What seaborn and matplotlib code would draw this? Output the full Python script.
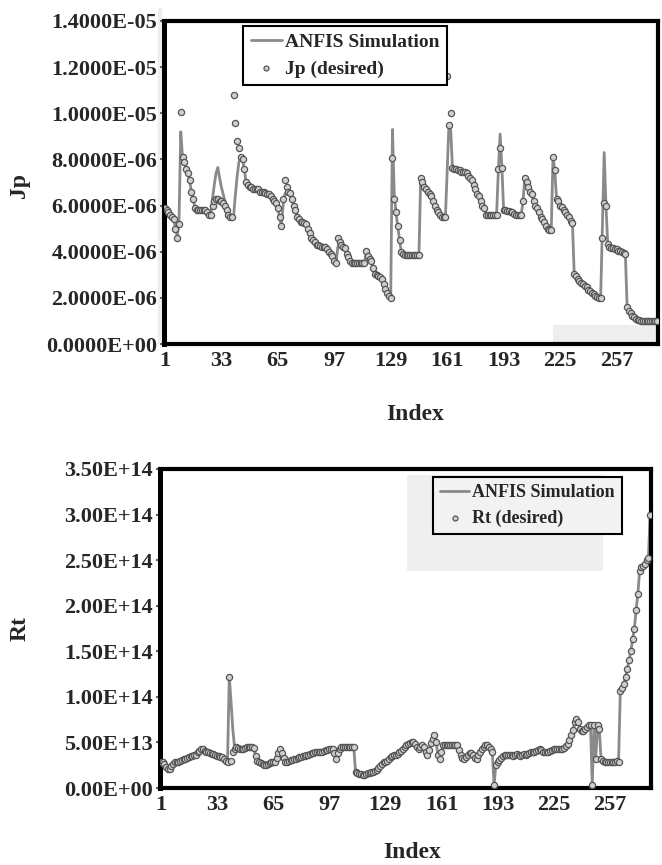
import numpy as np
import pandas as pd
import matplotlib
matplotlib.use("Agg")
import matplotlib.pyplot as plt
import seaborn as sns
from matplotlib.ticker import FuncFormatter, FixedLocator
from matplotlib.patches import Rectangle

# ---------------- data ----------------
# Jp (desired), units of 1e-6
jp_desired = [
    5.9, 5.8, 5.7, 5.6, 5.5, 5.4, 5.0, 4.6, 5.2, 10.06,
    8.1, 7.9, 7.6, 7.4, 7.1, 6.6, 6.3, 5.9, 5.8, 5.8,
    5.8, 5.8, 5.8, 5.8, 5.7, 5.6, 5.6, 6.0, 6.2, 6.3,
    6.3, 6.2, 6.2, 6.1, 6.0, 5.8, 5.6, 5.5, 5.5, 10.8,
    9.6, 8.8, 8.5, 8.1, 8.0, 7.6, 7.0, 6.9, 6.8, 6.8,
    6.7, 6.7, 6.7, 6.7, 6.6, 6.6, 6.6, 6.55, 6.5, 6.5,
    6.4, 6.3, 6.2, 6.1, 5.9, 5.5, 5.1, 6.3, 7.1, 6.8,
    6.6, 6.55, 6.3, 6.0, 5.8, 5.5, 5.4, 5.3, 5.3, 5.25,
    5.2, 5.0, 4.8, 4.6, 4.5, 4.4, 4.3, 4.3, 4.25, 4.2,
    4.2, 4.2, 4.1, 4.0, 3.9, 3.8, 3.6, 3.5, 4.6, 4.4,
    4.3, 4.2, 4.15, 3.9, 3.75, 3.6, 3.5, 3.5, 3.5, 3.5,
    3.5, 3.5, 3.5, 3.5, 4.05, 3.8, 3.7, 3.6, 3.3, 3.05,
    3.0, 2.95, 2.9, 2.8, 2.6, 2.4, 2.2, 2.1, 2.0, 8.05,
    6.3, 5.7, 5.1, 4.5, 4.0, 3.9, 3.85, 3.85, 3.85, 3.85,
    3.85, 3.85, 3.85, 3.85, 3.85, 7.2, 7.0, 6.8, 6.7, 6.6,
    6.5, 6.4, 6.2, 6.0, 5.8, 5.7, 5.6, 5.5, 5.5, 5.5,
    11.6, 9.5, 10.0, 7.65, 7.6, 7.6, 7.55, 7.55, 7.45, 7.45,
    7.45, 7.4, 7.3, 7.2, 7.1, 6.9, 6.7, 6.5, 6.4, 6.2,
    6.0, 5.9, 5.6, 5.6, 5.6, 5.6, 5.6, 5.6, 5.6, 7.6,
    8.5, 7.65, 5.8, 5.8, 5.75, 5.75, 5.7, 5.7, 5.65, 5.6,
    5.6, 5.6, 5.6, 6.2, 7.2, 7.0, 6.8, 6.6, 6.5, 6.2,
    6.0, 5.9, 5.7, 5.5, 5.4, 5.3, 5.1, 5.0, 4.95, 4.95,
    8.1, 7.55, 6.3, 6.2, 6.0, 5.95, 5.8, 5.7, 5.6, 5.5,
    5.35, 5.25, 3.05, 2.95, 2.8, 2.75, 2.65, 2.6, 2.5, 2.45,
    2.35, 2.3, 2.2, 2.15, 2.1, 2.05, 2.0, 2.0, 4.6, 6.1,
    6.0, 4.35, 4.2, 4.15, 4.15, 4.1, 4.1, 4.05, 4.05, 4.0,
    3.95, 3.9, 1.6, 1.45, 1.35, 1.2, 1.15, 1.1, 1.05, 1.05,
    1.0, 1.0, 1.0, 1.0, 1.0, 1.0, 1.0, 1.0, 1.0, 1.0,
]
# ANFIS simulation for Jp where it differs from the desired values (index: value, 1e-6)
jp_anfis_diff = {
    8: 4.7, 9: 5.3, 10: 9.2,
    28: 6.3, 29: 6.9, 30: 7.4, 31: 7.65, 32: 7.2, 33: 6.8, 34: 6.5, 35: 6.2, 36: 5.9, 37: 5.7,
    40: 5.6, 41: 6.5, 42: 7.3, 43: 7.9, 44: 8.0,
    68: 6.0, 69: 6.5, 70: 6.6,
    99: 4.2, 115: 3.9,
    130: 9.3, 131: 6.5,
    161: 7.5, 163: 9.3,
    190: 7.5, 191: 9.1, 192: 7.7,
    221: 8.15, 222: 7.5,
    249: 5.2, 250: 8.3,
}

# Rt (desired), units of 1e13
rt_desired = [
    2.9, 2.8, 2.6, 2.3, 2.1, 2.1, 2.4, 2.6, 2.8, 2.9,
    2.9, 3.0, 3.1, 3.2, 3.2, 3.3, 3.4, 3.5, 3.5, 3.6,
    3.6, 3.9, 4.1, 4.3, 4.3, 4.1, 4.0, 3.9, 3.8, 3.75,
    3.7, 3.6, 3.5, 3.5, 3.4, 3.4, 3.2, 3.0, 2.9, 12.2,
    3.0, 4.0, 4.3, 4.5, 4.4, 4.3, 4.3, 4.3, 4.4, 4.5,
    4.5, 4.5, 4.5, 4.4, 3.5, 3.0, 2.9, 2.7, 2.6, 2.5,
    2.5, 2.6, 2.7, 2.8, 2.9, 2.9, 3.3, 3.8, 4.3, 3.8,
    3.3, 2.9, 2.9, 3.0, 3.1, 3.1, 3.2, 3.2, 3.3, 3.4,
    3.4, 3.5, 3.5, 3.6, 3.6, 3.7, 3.8, 3.8, 3.9, 3.9,
    4.0, 4.0, 4.0, 4.1, 4.2, 4.2, 4.3, 4.3, 4.3, 3.8,
    3.2, 3.8, 4.3, 4.5, 4.5, 4.5, 4.5, 4.5, 4.5, 4.5,
    4.5, 1.8, 1.6, 1.5, 1.5, 1.4, 1.4, 1.5, 1.6, 1.7,
    1.8, 1.8, 1.9, 2.0, 2.2, 2.4, 2.6, 2.8, 2.9, 3.0,
    3.2, 3.4, 3.5, 3.6, 3.6, 3.7, 3.9, 4.1, 4.3, 4.5,
    4.7, 4.8, 4.9, 5.0, 5.1, 4.8, 4.5, 4.3, 4.5, 4.7,
    4.5, 4.0, 3.6, 4.2, 4.9, 5.4, 5.8, 5.0, 3.6, 3.2,
    4.0, 4.7, 4.7, 4.7, 4.7, 4.7, 4.7, 4.7, 4.7, 4.7,
    4.2, 3.6, 3.3, 3.2, 3.4, 3.6, 3.8, 3.8, 3.6, 3.3,
    3.2, 3.6, 4.0, 4.3, 4.5, 4.7, 4.7, 4.5, 4.3, 4.0,
    0.3, 2.5, 2.9, 3.1, 3.3, 3.5, 3.6, 3.6, 3.6, 3.6,
    3.6, 3.5, 3.6, 3.7, 3.6, 3.5, 3.6, 3.7, 3.6, 3.7,
    3.8, 4.0, 4.0, 4.0, 4.1, 4.2, 4.3, 4.2, 4.0, 4.0,
    4.0, 4.0, 4.1, 4.2, 4.3, 4.3, 4.3, 4.3, 4.3, 4.3,
    4.4, 4.6, 4.8, 5.3, 5.8, 6.4, 7.2, 7.6, 7.2, 6.5,
    6.2, 6.3, 6.5, 6.7, 6.9, 6.9, 0.3, 6.9, 3.2, 6.9,
    6.5, 3.2, 3.0, 2.9, 2.9, 2.9, 2.9, 2.9, 2.9, 2.9,
    3.0, 2.9, 10.6, 11.0, 11.4, 12.2, 13.1, 14.0, 15.0, 16.3,
    17.5, 19.5, 21.3, 23.8, 24.2, 24.4, 24.6, 25.0, 25.2, 30.0,
]
# ANFIS simulation for Rt where it differs from the desired values (index: value, 1e13)
rt_anfis_diff = {41: 9.5, 42: 6.5, 43: 4.5}

x_tick_values = [1, 33, 65, 97, 129, 161, 193, 225, 257]
jp_yticks = [0.0, 2e-6, 4e-6, 6e-6, 8e-6, 1e-5, 1.2e-5, 1.4e-5]
rt_yticks = [0.0, 5e13, 1e14, 1.5e14, 2e14, 2.5e14, 3e14, 3.5e14]

assert len(jp_desired) == 280 and len(rt_desired) == 280


def build_frame(desired, diff, scale):
    idx = np.arange(1, len(desired) + 1)
    d = np.array(desired, dtype=float)
    a = d.copy()
    for k, v in diff.items():
        a[k - 1] = v
    return pd.DataFrame({"Index": idx, "desired": d * scale, "anfis": a * scale})


jp_df = build_frame(jp_desired, jp_anfis_diff, 1e-6)
rt_df = build_frame(rt_desired, rt_anfis_diff, 1e13)

# ---------------- style ----------------
sns.set_theme(style="white")
plt.rcParams["font.family"] = ["Liberation Serif", "DejaVu Serif"]
plt.rcParams["font.weight"] = "bold"
plt.rcParams["axes.labelweight"] = "bold"

LINE_C = "#8a8a8a"
PT_FACE = "#cfcfcf"
PT_EDGE = "#555555"

W, H = 662, 865
fig = plt.figure(figsize=(W / 100, H / 100), dpi=100)
fig.patch.set_facecolor("white")


def px_axes(left, top, right, bottom):
    return fig.add_axes([left / W, 1 - bottom / H, (right - left) / W, (bottom - top) / H])


ax1 = px_axes(164, 21, 658, 344)
ax2 = px_axes(160, 469, 651, 788)

# light-grey scan artefacts
fig.patches.append(Rectangle((158 / W, 1 - 343 / H), 3 / W, 335 / H,
                             transform=fig.transFigure, color="#eeeeee", zorder=-1))
ax1.add_patch(Rectangle((0.787, 0.0), 0.213, 0.059, transform=ax1.transAxes,
                        color="#eeeeee", zorder=0.5, lw=0))
ax2.add_patch(Rectangle((0.503, 0.68), 0.399, 0.301, transform=ax2.transAxes,
                        color="#efefef", zorder=0.5, lw=0))


def draw(ax, df, desired_label, ylabel, yticks, fmt, legend_anchor, legend_size, legend_face):
    sns.lineplot(data=df, x="Index", y="anfis", ax=ax, color=LINE_C, linewidth=2.0,
                 label="ANFIS Simulation", zorder=2)
    sns.scatterplot(data=df, x="Index", y="desired", ax=ax, s=20, color=PT_FACE,
                    edgecolor=PT_EDGE, linewidth=0.9, label=desired_label, zorder=3)
    ax.set_xlim(0.5, 280.5)
    ax.set_ylim(yticks[0], yticks[-1])
    ax.xaxis.set_major_locator(FixedLocator(x_tick_values))
    ax.set_xticklabels([str(v) for v in x_tick_values])
    ax.yaxis.set_major_locator(FixedLocator(yticks))
    ax.yaxis.set_major_formatter(FuncFormatter(fmt))
    ax.tick_params(axis="x", length=0, pad=5, labelsize=16)
    ax.tick_params(axis="y", length=3, width=1.5, color="#666666", pad=2, labelsize=16, left=True)
    for lab in ax.get_xticklabels() + ax.get_yticklabels():
        lab.set_fontweight("bold")
    for s in ax.spines.values():
        s.set_visible(True)
        s.set_color("black")
        s.set_linewidth(3.0)
    ax.spines["left"].set_linewidth(3.6)
    ax.set_xlabel("Index", fontsize=17, fontweight="bold")
    ax.set_ylabel(ylabel, fontsize=17, fontweight="bold")
    ax.grid(False)
    ax.set_facecolor("none")
    leg = ax.legend(loc="upper left", bbox_to_anchor=legend_anchor, borderaxespad=0,
                    prop={"weight": "bold", "size": legend_size},
                    frameon=True, fancybox=False, framealpha=1, facecolor=legend_face,
                    edgecolor="black", borderpad=0.4, labelspacing=0.45,
                    handlelength=1.6, handletextpad=0.15, markerscale=0.8)
    leg.get_frame().set_linewidth(1.5)
    leg.set_zorder(5)
    return leg


draw(ax1, jp_df, "Jp (desired)", "Jp", jp_yticks, lambda v, p: f"{v:.4E}",
     (0.16, 0.985), 14, "white")
draw(ax2, rt_df, "Rt (desired)", "Rt", rt_yticks, lambda v, p: f"{v:.2E}",
     (0.556, 0.975), 13, "#f2f2f2")

ax1.xaxis.set_label_coords(0.508, -0.185)
ax1.yaxis.set_label_coords(-0.271, 0.49)
ax2.xaxis.set_label_coords(0.513, -0.17)
ax2.yaxis.set_label_coords(-0.263, 0.5)

fig.savefig("out.png", dpi=100, facecolor="white")
